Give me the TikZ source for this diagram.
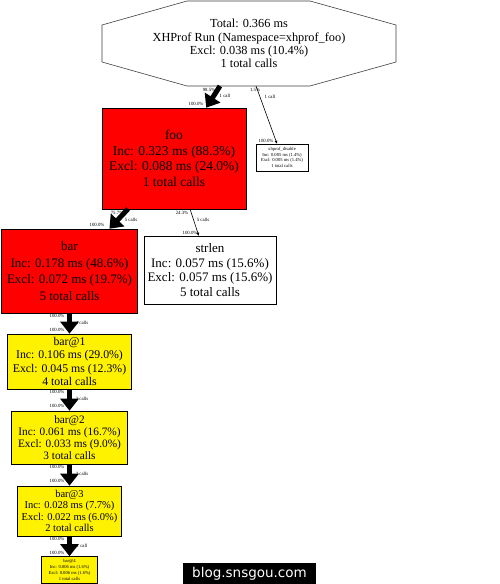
\documentclass[tikz,border=0pt]{standalone}
\usepackage{fontspec}
\setmainfont{Liberation Serif}
\newfontfamily\markfont{DejaVu Sans}
\usetikzlibrary{arrows.meta,positioning,calc}
\newcommand{\fsz}[2]{\fontsize{#1}{#2}\selectfont}
\tikzset{
  fnbox/.style={draw=black,line width=.6pt,align=center,inner sep=0pt},
  hotbox/.style={fnbox,fill=red},
  warmbox/.style={fnbox,fill=yellow},
  coldbox/.style={fnbox,fill=white},
  callheavy/.style={-{Triangle[length=12pt,width=18pt]},line width=5pt},
  calllight/.style={-{Triangle[length=3pt,width=2.6pt]},line width=.6pt}
}

\begin{document}
\begin{tikzpicture}[
  x=1pt,
  y=-1pt,
  elabel/.style={
    font=\fsz{4.8}{5.8},
    inner sep=0pt
  },
  rootline/.style={
    draw=black!75,
    line width=.6pt
  }
]

  \fill[white] (0,0) rectangle (500,584);
  \useasboundingbox (0,0) rectangle (500,584);

  % --------------------------------------------------------------
  % The run summary (octagon at the top).
  % --------------------------------------------------------------
  \draw[rootline] (187,1) -- (310,1) -- (396,25) -- (396,62)
    -- (310,86) -- (187,86) -- (102,62) -- (102,25) -- cycle;
  \node[align=center,inner sep=0pt,font=\fsz{12.3}{13.3}] (main) at (249,43.5)
    {Total: 0.366 ms\\XHProf Run (Namespace=xhprof\_foo)\\Excl: 0.038 ms (10.4\%)\\1 total calls};

  \coordinate (mainOutL) at (220,86);
  \coordinate (mainOutR) at (256,86);


  % --------------------------------------------------------------
  % Function boxes.
  % --------------------------------------------------------------
  \node[hotbox,minimum width=144,minimum height=101,font=\fsz{13.5}{15.5}] (foo) at (174,158.5)
    {foo\\Inc: 0.323 ms (88.3\%)\\Excl: 0.088 ms (24.0\%)\\1 total calls};

  \node[coldbox,minimum width=52,minimum height=27,font=\fsz{4.6}{5.6}] (xdis) at (282,157.5)
    {xhprof\_disable\\Inc: 0.005 ms (1.4\%)\\Excl: 0.005 ms (1.4\%)\\1 total calls};

  \node[hotbox,minimum width=136,minimum height=84,font=\fsz{13}{16.5}] (bar) at (69.5,271)
    {bar\\Inc: 0.178 ms (48.6\%)\\Excl: 0.072 ms (19.7\%)\\5 total calls};

  \node[coldbox,minimum width=132,minimum height=68,font=\fsz{13}{14.7}] (strlen) at (210,270)
    {strlen\\Inc: 0.057 ms (15.6\%)\\Excl: 0.057 ms (15.6\%)\\5 total calls};

  \node[warmbox,minimum width=124,minimum height=55,font=\fsz{11.8}{13.3}] (bar1) at (69.5,361.5)
    {bar@1\\Inc: 0.106 ms (29.0\%)\\Excl: 0.045 ms (12.3\%)\\4 total calls};

  \node[warmbox,minimum width=116,minimum height=53,font=\fsz{11.3}{12}] (bar2) at (69.5,437.5)
    {bar@2\\Inc: 0.061 ms (16.7\%)\\Excl: 0.033 ms (9.0\%)\\3 total calls};

  \node[warmbox,minimum width=104,minimum height=50,font=\fsz{10.5}{11.3}] (bar3) at (69.5,511)
    {bar@3\\Inc: 0.028 ms (7.7\%)\\Excl: 0.022 ms (6.0\%)\\2 total calls};

  \node[warmbox,minimum width=56,minimum height=27,font=\fsz{4.6}{5.8}] (bar4) at (69.5,570)
    {bar@4\\Inc: 0.006 ms (1.6\%)\\Excl: 0.006 ms (1.6\%)\\1 total calls};

  \coordinate (fooOutL) at (128,209);
  \coordinate (fooOutR) at (190,209);


  % --------------------------------------------------------------
  % Calls.
  % --------------------------------------------------------------
  \draw[callheavy] (mainOutL) -- (foo);
  \draw[calllight] (mainOutR) -- (xdis);

  \draw[callheavy] (fooOutL) -- (bar);
  \draw[calllight] (fooOutR) -- (strlen);

  \draw[callheavy] (bar) -- (bar1);
  \draw[callheavy] (bar1) -- (bar2);
  \draw[callheavy] (bar2) -- (bar3);
  \draw[callheavy] (bar3) -- (bar4);


  % --------------------------------------------------------------
  % Call labels: share of the caller, count, share of the callee.
  % --------------------------------------------------------------
  \node[elabel] (lMainFooA) at (209,89.5) {98.5\%};
  \node[elabel] (lMainFooB) at (225,96)   {1 call};
  \node[elabel] (lMainFooC) at (196,104)  {100.0\%};

  \node[elabel] (lMainXdisA) at (255,90)  {1.5\%};
  \node[elabel] (lMainXdisB) at (270,97)  {1 call};
  \node[elabel] (lMainXdisC) at (266,141) {100.0\%};

  \node[elabel] (lFooBarA) at (117,213) {75.7\%};
  \node[elabel] (lFooBarB) at (131,220) {5 calls};
  \node[elabel] (lFooBarC) at (97,225)  {100.0\%};

  \node[elabel] (lFooStrA) at (182,213) {24.3\%};
  \node[elabel] (lFooStrB) at (203,220) {5 calls};
  \node[elabel] (lFooStrC) at (190,233) {100.0\%};

\foreach \y/\c/\n in {313/4 calls/1,389/3 calls/2,464/2 calls/3,536/1 call/4}
  {\node[elabel] (lChainA\n) at (57,\y+2.5) {100.0\%};
   \node[elabel] (lChainB\n) at (82,\y+9.5) {\c};
   \node[elabel] (lChainC\n) at (57,\y+17) {100.0\%};}


  % --------------------------------------------------------------
  % Watermark.
  % --------------------------------------------------------------
  \node[fill=black,text=white,minimum width=133,minimum height=21,inner sep=0pt,
    font=\markfont\fsz{13.5}{15}] (mark) at (249.5,573.5) {blog.snsgou.com};

\end{tikzpicture}
\end{document}
